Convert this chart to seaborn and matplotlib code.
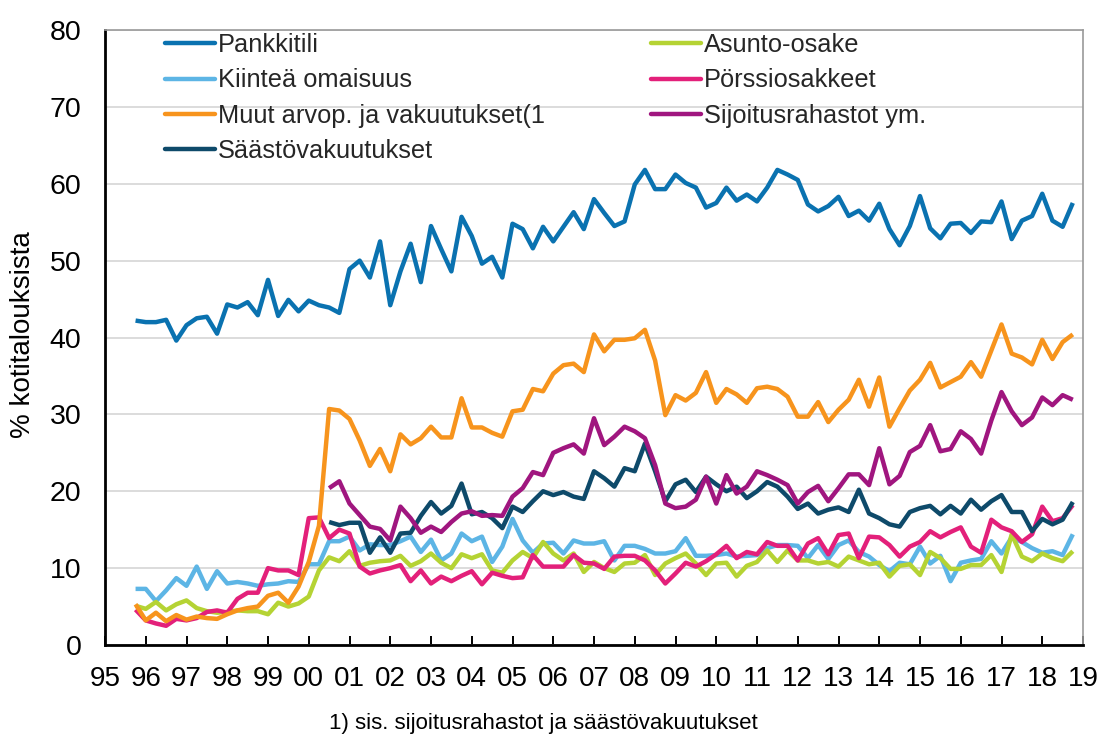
import numpy as np
import pandas as pd
import matplotlib
matplotlib.use("Agg")
import matplotlib.pyplot as plt
import seaborn as sns
from matplotlib.lines import Line2D

# ---------------- data (quarterly, first point 1995 Q4) ----------------
first_quarter = 1995.75
quarter_step = 0.25

pankkitili = [42.2, 42.0, 42.0, 42.3, 39.6, 41.6, 42.5, 42.7, 40.5, 44.3,
              43.9, 44.6, 42.9, 47.5, 42.8, 44.9, 43.4, 44.8, 44.2, 43.9,
              43.2, 48.9, 50.0, 47.8, 52.5, 44.2, 48.6, 52.2, 47.2, 54.5,
              51.5, 48.6, 55.7, 53.2, 49.6, 50.5, 47.8, 54.8, 54.1, 51.6,
              54.4, 52.5, 54.4, 56.3, 54.1, 58.0, 56.2, 54.5, 55.1, 59.9,
              61.8, 59.3, 59.3, 61.2, 60.1, 59.5, 56.9, 57.5, 59.5, 57.8,
              58.6, 57.7, 59.5, 61.8, 61.2, 60.5, 57.3, 56.4, 57.1, 58.3,
              55.8, 56.5, 55.2, 57.4, 54.1, 52.0, 54.5, 58.4, 54.2, 52.9,
              54.8, 54.9, 53.6, 55.1, 55.0, 57.7, 52.8, 55.2, 55.8, 58.7,
              55.2, 54.4, 57.5]

kiintea = [7.3, 7.3, 5.7, 7.1, 8.7, 7.7, 10.2, 7.3, 9.6, 8.0,
           8.2, 8.0, 7.7, 7.9, 8.0, 8.3, 8.2, 10.5, 10.5, 13.5,
           13.5, 14.1, 12.3, 13.1, 13.0, 13.0, 13.5, 14.1, 12.1, 13.7,
           11.0, 11.9, 14.5, 13.5, 14.1, 10.8, 12.8, 16.4, 13.6, 12.0,
           13.2, 13.3, 11.9, 13.6, 13.2, 13.2, 13.5, 11.0, 12.9, 12.9,
           12.5, 11.9, 11.9, 12.2, 13.9, 11.6, 11.6, 11.7, 11.9, 11.5,
           11.6, 11.7, 12.6, 13.0, 13.0, 12.9, 11.3, 13.0, 11.2, 13.0,
           13.6, 12.1, 11.5, 10.4, 9.6, 10.7, 10.5, 12.8, 10.6, 11.6,
           8.3, 10.7, 11.0, 11.2, 13.5, 11.9, 14.0, 13.4, 12.6, 12.0,
           12.2, 11.7, 14.4]

muut_arvop = [5.3, 3.2, 4.2, 3.1, 3.9, 3.3, 3.7, 3.5, 3.4, 4.0,
              4.5, 4.8, 5.0, 6.4, 6.8, 5.5, 7.6, 10.8, 15.5, 30.7,
              30.5, 29.4, 26.6, 23.3, 25.5, 22.6, 27.4, 26.1, 26.9, 28.4,
              27.0, 27.0, 32.1, 28.3, 28.3, 27.6, 27.1, 30.4, 30.6, 33.3,
              33.0, 35.3, 36.4, 36.6, 35.5, 40.4, 38.2, 39.7, 39.7, 39.9,
              41.0, 37.0, 29.9, 32.5, 31.8, 32.8, 35.5, 31.5, 33.3, 32.6,
              31.5, 33.4, 33.6, 33.3, 32.3, 29.7, 29.7, 31.6, 29.0, 30.6,
              31.9, 34.5, 31.0, 34.8, 28.4, 30.8, 33.1, 34.5, 36.7, 33.5,
              34.2, 34.9, 36.8, 34.9, 38.3, 41.7, 37.9, 37.4, 36.5, 39.7,
              37.2, 39.4, 40.4]

asunto_osake = [5.1, 4.7, 5.6, 4.5, 5.3, 5.8, 4.8, 4.4, 4.2, 4.3,
                4.5, 4.4, 4.4, 4.0, 5.5, 5.0, 5.4, 6.3, 9.7, 11.4,
                10.9, 12.2, 10.3, 10.7, 10.9, 11.0, 11.6, 10.3, 10.9, 11.9,
                10.7, 10.0, 11.8, 11.3, 11.8, 9.7, 9.4, 11.0, 12.1, 11.3,
                13.4, 11.9, 11.0, 11.9, 9.5, 10.8, 10.0, 9.5, 10.6, 10.7,
                11.7, 9.1, 10.6, 11.3, 11.9, 10.6, 9.1, 10.6, 10.7, 8.9,
                10.3, 10.8, 12.3, 10.8, 12.3, 11.0, 11.0, 10.6, 10.8, 10.2,
                11.5, 11.0, 10.5, 10.7, 8.9, 10.3, 10.5, 9.1, 12.1, 11.3,
                9.9, 9.9, 10.4, 10.4, 11.7, 9.5, 14.4, 11.5, 10.9, 11.9,
                11.3, 10.9, 12.2]

porssiosakkeet = [4.6, 3.2, 2.8, 2.5, 3.4, 3.2, 3.5, 4.3, 4.5, 4.2,
                  6.0, 6.8, 6.8, 10.0, 9.7, 9.7, 9.1, 16.5, 16.6, 13.9,
                  15.0, 14.5, 10.2, 9.3, 9.7, 10.0, 10.4, 8.3, 9.7, 8.0,
                  8.9, 8.3, 9.0, 9.6, 7.9, 9.4, 9.0, 8.7, 8.8, 11.7,
                  10.2, 10.2, 10.2, 11.7, 10.7, 10.6, 9.9, 11.5, 11.6, 11.6,
                  11.0, 9.7, 8.0, 9.3, 10.7, 10.2, 10.9, 11.8, 12.9, 11.3,
                  12.1, 11.8, 13.4, 12.9, 12.9, 11.0, 13.2, 13.9, 11.8, 14.3,
                  14.5, 11.3, 14.1, 14.0, 13.0, 11.5, 12.8, 13.4, 14.8, 14.0,
                  14.7, 15.3, 12.8, 12.0, 16.3, 15.3, 14.8, 13.4, 14.4, 18.0,
                  16.1, 16.5, 18.2]

# the two series below start at quarter index 19 (2000 Q3)
late_start_index = 19

sijoitusrahastot = [20.4, 21.3, 18.4, 16.9, 15.4, 15.1, 13.6, 18.0, 16.5, 14.6,
                    15.4, 14.7, 16.0, 17.1, 17.4, 16.8, 16.9, 16.8, 19.3, 20.4,
                    22.5, 22.1, 25.0, 25.6, 26.1, 24.9, 29.5, 26.0, 27.1, 28.4,
                    27.8, 26.9, 23.4, 18.4, 17.8, 18.0, 18.9, 21.9, 18.4, 22.1,
                    19.7, 20.6, 22.6, 22.1, 21.5, 20.8, 18.4, 19.9, 20.7, 18.7,
                    20.4, 22.2, 22.2, 20.8, 25.6, 20.9, 22.0, 25.1, 25.9, 28.6,
                    25.2, 25.5, 27.8, 26.8, 24.9, 29.2, 32.9, 30.4, 28.6, 29.6,
                    32.2, 31.2, 32.5, 31.9]

saastovakuutukset = [16.0, 15.6, 15.9, 15.9, 12.0, 14.0, 12.0, 14.5, 14.6, 16.8,
                     18.6, 17.1, 18.1, 21.0, 17.0, 17.3, 16.5, 15.2, 18.0, 17.3,
                     18.7, 20.0, 19.5, 19.9, 19.3, 19.0, 22.6, 21.7, 20.6, 23.0,
                     22.6, 26.2, 22.6, 18.7, 20.9, 21.5, 19.9, 21.9, 20.9, 20.0,
                     20.6, 19.1, 20.0, 21.2, 20.6, 19.3, 17.7, 18.4, 17.1, 17.6,
                     17.9, 17.3, 20.2, 17.1, 16.5, 15.7, 15.4, 17.3, 17.8, 18.1,
                     17.0, 18.1, 17.1, 18.9, 17.6, 18.7, 19.5, 17.3, 17.3, 14.8,
                     16.4, 15.7, 16.3, 18.6]

series_names = ["Pankkitili", "Asunto-osake", "Kiinteä omaisuus", "Pörssiosakkeet",
                "Muut arvop. ja vakuutukset(1", "Sijoitusrahastot ym.", "Säästövakuutukset"]
series_values = [pankkitili, asunto_osake, kiintea, porssiosakkeet,
                 muut_arvop, sijoitusrahastot, saastovakuutukset]
series_start = [0, 0, 0, 0, 0, late_start_index, late_start_index]

year_ticks = list(range(1995, 2020))
year_labels = [f"{y % 100:02d}" for y in year_ticks]
y_ticks = [0, 10, 20, 30, 40, 50, 60, 70, 80]

colors = {
    "Pankkitili": "#0A72B0",
    "Asunto-osake": "#B5D334",
    "Kiinteä omaisuus": "#5DB5E5",
    "Pörssiosakkeet": "#E3207A",
    "Muut arvop. ja vakuutukset(1": "#F7941D",
    "Sijoitusrahastot ym.": "#A0167F",
    "Säästövakuutukset": "#0E4A6A",
}

# ---------------- long table ----------------
rows = []
for name, vals, st in zip(series_names, series_values, series_start):
    for k, v in enumerate(vals):
        rows.append({"t": first_quarter + quarter_step * (st + k), "arvo": v, "sarja": name})
df = pd.DataFrame(rows)

# ---------------- figure ----------------
sns.set_theme(style="white")
plt.rcParams["font.family"] = ["Liberation Sans", "DejaVu Sans"]

fig = plt.figure(figsize=(11, 7.36), dpi=100)
ax = fig.add_axes([105 / 1100, 1 - 645 / 736, (1083 - 105) / 1100, (645 - 30) / 736])

draw_order = ["Pankkitili", "Kiinteä omaisuus", "Asunto-osake", "Pörssiosakkeet",
              "Muut arvop. ja vakuutukset(1", "Säästövakuutukset", "Sijoitusrahastot ym."]
sns.lineplot(data=df, x="t", y="arvo", hue="sarja", hue_order=draw_order,
             palette=colors, estimator=None, sort=False, linewidth=3.2,
             legend=False, ax=ax)
for ln in ax.lines:
    ln.set_solid_joinstyle("round")
    ln.set_solid_capstyle("butt")

ax.set_xlim(1995, 2019)
ax.set_ylim(0, 80)
ax.set_xticks(year_ticks)
ax.set_xticklabels(year_labels)
ax.set_yticks(y_ticks)
ax.set_xlabel("")
ax.set_ylabel("")

ax.yaxis.grid(True, color="#d9d9d9", linewidth=1.3)
ax.xaxis.grid(False)
ax.set_axisbelow(True)

ax.tick_params(axis="x", direction="in", length=6.5, width=1.4, color="black",
               labelsize=20, pad=15, labelcolor="black", bottom=True, top=False)
ax.tick_params(axis="y", length=0, labelsize=20.5, pad=17, labelcolor="black")

for side in ["left", "bottom"]:
    ax.spines[side].set_color("black")
    ax.spines[side].set_linewidth(2.0)
for side in ["top", "right"]:
    ax.spines[side].set_color("#9a9a9a")
    ax.spines[side].set_linewidth(1.2)
    ax.spines[side].set_visible(True)

# legend (row-major order as in the reference: two columns)
col1 = ["Pankkitili", "Kiinteä omaisuus", "Muut arvop. ja vakuutukset(1", "Säästövakuutukset"]
col2 = ["Asunto-osake", "Pörssiosakkeet", "Sijoitusrahastot ym."]
legend_order = col1 + col2
handles = [Line2D([0], [0], color=colors[n], linewidth=3.2) for n in legend_order]
fig.legend(handles, legend_order, loc="upper left",
           bbox_to_anchor=(165 / 1100, 1 - 33 / 736), bbox_transform=fig.transFigure,
           ncol=2, frameon=False, fontsize=18.3, handlelength=1.95, handletextpad=0.12,
           columnspacing=4.2, labelspacing=0.45, borderpad=0, borderaxespad=0)

fig.text(23 / 1100, 1 - 335 / 736, "% kotitalouksista", rotation=90,
         ha="center", va="center", fontsize=20, color="black")
fig.text(543 / 1100, 1 - 729 / 736, "1) sis. sijoitusrahastot ja säästövakuutukset",
         ha="center", va="baseline", fontsize=16, color="black")

fig.savefig("out.png", dpi=100)
